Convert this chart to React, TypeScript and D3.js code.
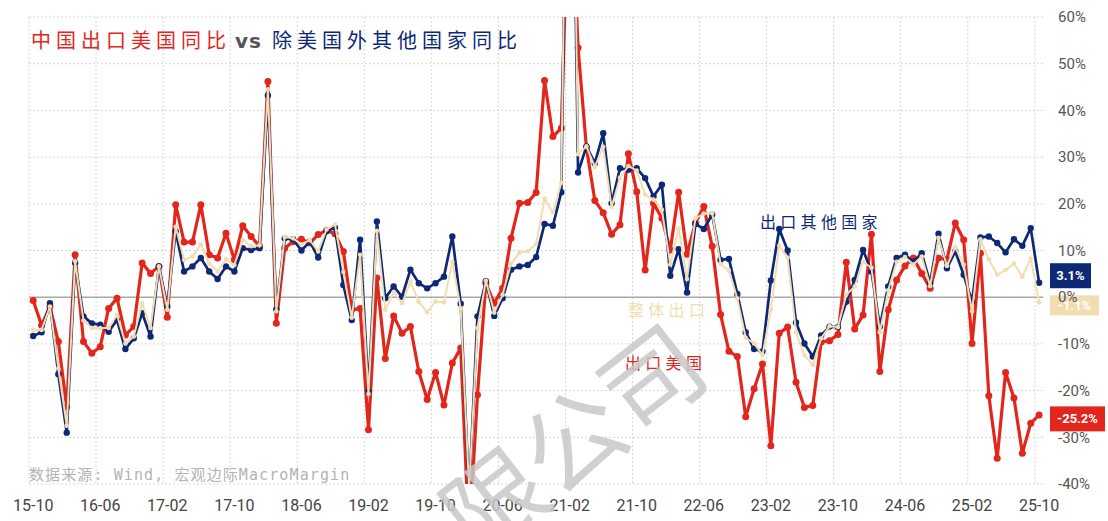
import React from 'react';
import * as d3 from 'd3';

// monthly, 2015-10 .. 2025-10
const months = d3.timeMonth.range(new Date(2015, 9, 1), new Date(2025, 10, 1));
const fmt = d3.timeFormat('%y-%m');
const categories = months.map(d => fmt(d));

const tickLabels = ['15-10', '16-06', '17-02', '17-10', '18-06', '19-02', '19-10', '20-06',
  '21-02', '21-10', '22-06', '23-02', '23-10', '24-06', '25-02', '25-10'];
const yTicks = [60, 50, 40, 30, 20, 10, 0, -10, -20, -30, -40];

// 出口美国
const usSeries = [
  -0.7, -6.0, -2.0, -9.5, -23.5, 9.1, -9.5, -12.0, -10.6, -2.4, -0.2, -8.1, -6.3, 7.3, 5.1, 6.6,
  -4.3, 19.8, 11.8, 11.8, 19.8, 9.1, 8.4, 13.7, 8.0, 15.3, 13.0, 10.9, 46.2, -5.6, 10.5, 11.9,
  12.4, 11.6, 13.4, 14.3, 13.6, 9.8, -2.7, -2.4, -28.4, 4.1, -13.1, -4.0, -7.7, -6.3, -15.9, -21.9,
  -16.1, -23.1, -14.1, -10.9, -52.0, -20.9, 3.0, -1.3, 1.9, 12.6, 20.1, 20.3, 22.4, 46.4, 34.4, 36.2,
  95.0, 53.4, 32.0, 20.7, 18.1, 13.5, 15.5, 30.7, 22.6, 5.8, 20.1, 16.9, 10.1, 22.5, 9.2, 15.9,
  19.4, 10.9, -3.7, -11.6, -12.7, -25.6, -19.6, -14.3, -31.8, -7.7, -6.4, -18.2, -23.6, -23.2, -9.6, -9.3,
  -8.0, 7.5, -6.8, -3.8, 13.5, -15.9, -2.7, 3.7, 6.7, 8.4, 5.1, 1.9, 8.4, 8.1, 15.9, 12.3,
  -9.9, 9.4, -21.1, -34.5, -16.1, -21.6, -33.4, -27.0, -25.2,
];

// 出口其他国家
const otherSeries = [
  -8.3, -7.5, -1.3, -16.5, -29.0, 7.4, -4.1, -5.6, -5.9, -7.4, -4.9, -11.1, -8.8, -3.4, -8.4, 6.6,
  -2.0, 14.1, 5.5, 6.6, 8.4, 5.5, 3.9, 6.6, 5.5, 10.5, 10.1, 10.5, 43.2, -2.6, 12.6, 12.4,
  10.0, 11.9, 8.5, 14.1, 14.9, 2.6, -4.9, 12.3, -20.2, 16.2, -0.2, 2.3, 0.1, 5.9, 3.0, 1.9,
  3.0, 4.4, 13.0, -1.4, -42.0, -4.1, 3.4, -4.0, -0.2, 5.9, 6.6, 6.9, 8.6, 15.7, 15.3, 22.5,
  150.0, 26.7, 32.3, 28.7, 35.1, 20.1, 27.6, 27.3, 27.6, 25.5, 21.6, 24.1, 4.6, 10.3, 1.0, 15.7,
  14.6, 17.7, 8.0, 8.2, 0.7, -7.5, -11.1, -11.6, 3.6, 14.6, 10.0, -5.4, -9.9, -12.7, -8.2, -6.3,
  -6.4, -1.0, 3.7, 10.1, 5.5, -6.3, 2.3, 8.4, 9.1, 7.6, 9.4, 3.0, 13.6, 6.2, 9.8, 4.8,
  -0.9, 12.8, 13.0, 11.6, 9.6, 12.4, 11.0, 14.8, 3.1,
];

// 整体出口
const totalSeries = [
  -7.0, -7.0, -2.0, -15.2, -27.5, 7.7, -5.0, -6.6, -6.6, -6.6, -3.8, -9.9, -8.4, -1.3, -6.6, 6.6,
  -2.7, 15.1, 8.0, 8.7, 11.3, 7.2, 5.5, 8.1, 6.9, 12.3, 10.9, 11.1, 44.5, -3.0, 12.9, 12.6,
  11.3, 12.2, 9.8, 14.5, 15.6, 5.4, -4.4, 9.1, -20.7, 14.2, -2.7, 1.1, -1.3, 3.3, -1.0, -3.2,
  -0.9, -1.1, 7.6, -2.4, -41.0, -6.6, 3.5, -3.3, 0.5, 7.2, 9.5, 9.9, 11.4, 21.1, 18.1, 24.5,
  155.0, 30.6, 32.3, 27.9, 32.2, 19.3, 25.6, 28.1, 27.1, 22.0, 20.9, 18.7, 7.0, 14.7, 3.9, 16.9,
  17.9, 18.0, 7.1, 5.7, -0.3, -8.7, -9.9, -12.4, -2.7, 11.0, 8.5, -7.5, -12.4, -14.5, -8.8, -6.2,
  -6.4, 0.5, 2.3, 7.6, 6.3, -7.5, 1.5, 7.6, 8.6, 7.0, 8.7, 2.4, 12.7, 6.7, 10.7, 7.0,
  -3.0, 12.4, 8.1, 4.8, 5.8, 7.2, 4.4, 8.3, -1.1,
];

const RED = '#e3261c';
const NAVY = '#0c2877';
const BEIGE = '#f3ddb0';

const W = 1108, H = 521;
const left = 29, right = 1043.3, top = 17, bottom = 484;

const x = d3.scaleBand<string>().domain(categories).range([left, right]).padding(0);
const y = d3.scaleLinear().domain([-40, 60]).range([bottom, top]);
const cx = (c: string) => (x(c) as number) + x.bandwidth() / 2;

const seriesDefs = [
  { key: 'us', data: usSeries, color: RED, width: 3.2, r: 3.5, label: '-25.2%', boxW: 55, boxH: 25, dy: 4 },
  { key: 'other', data: otherSeries, color: NAVY, width: 2.7, r: 3.2, label: '3.1%', boxW: 41, boxH: 25, dy: -7 },
  { key: 'total', data: totalSeries, color: BEIGE, width: 2, r: 2.3, label: '-1.1%', boxW: 49, boxH: 20, dy: 3 },
];

const line = d3.line<number>()
  .x((_, i) => cx(categories[i]))
  .y(d => y(d));

export default function App() {
  return (
    <svg width={W} height={H} style={{ position: 'absolute', left: 0, top: 0, background: '#fff' }}
      fontFamily="Roboto, 'Noto Sans CJK SC', sans-serif">
      <defs>
        <clipPath id="plot">
          <rect x={left} y={top} width={right - left} height={bottom - top} />
        </clipPath>
      </defs>

      {/* grid */}
      {yTicks.filter(v => v !== 0).map(v => (
        <line key={'h' + v} x1={left} x2={right} y1={y(v)} y2={y(v)}
          stroke="#d6d6d6" strokeDasharray="2,2" />
      ))}
      {tickLabels.map(t => (
        <line key={'v' + t} x1={x(t)} x2={x(t)} y1={top} y2={bottom}
          stroke="#d6d6d6" strokeDasharray="2,2" />
      ))}
      <line x1={left} x2={right} y1={y(0)} y2={y(0)} stroke="#a8a8a8" strokeWidth={1.5} />

      {/* series */}
      <g clipPath="url(#plot)">
        {seriesDefs.map(s => (
          <g key={s.key}>
            <path d={line(s.data) || ''} fill="none" stroke={s.color} strokeWidth={s.width}
              strokeLinejoin="round" />
            {s.data.map((v, i) => (
              <circle key={i} cx={cx(categories[i])} cy={y(v)} r={s.r} fill={s.color} />
            ))}
          </g>
        ))}
      </g>

      {/* x axis labels */}
      {tickLabels.map(t => (
        <text key={'x' + t} x={cx(t)} y={511} textAnchor="middle" fontSize={16} fill="#444">{t}</text>
      ))}

      {/* y axis labels */}
      {yTicks.filter(v => v !== 0).map(v => (
        <text key={'y' + v} x={1058} y={y(v)} dy="0.35em" fontSize={15} fill="#555">{v}%</text>
      ))}

      {/* end value boxes */}
      {seriesDefs.map(s => {
        const last = s.data[s.data.length - 1];
        const yc = y(last) + s.dy;
        return (
          <g key={'b' + s.key}>
            <rect x={1050} y={yc - s.boxH / 2} width={s.boxW} height={s.boxH} fill={s.color} />
            <text x={1050 + s.boxW / 2} y={yc} dy="0.35em" textAnchor="middle" fontSize={13}
              fill="#fff" fontWeight="bold">{s.label}</text>
          </g>
        );
      })}
      <text x={1058} y={y(0)} dy="0.35em" fontSize={15} fill="#555">0%</text>

      {/* title */}
      <text x={31} y={48} fontSize={20} letterSpacing={5} fontFamily="'Noto Sans CJK SC', sans-serif">
        <tspan fill={RED}>中国出口美国同比</tspan>
        <tspan fill="#555" dx={4} fontFamily="'DejaVu Sans', sans-serif" fontWeight="bold" letterSpacing={1}>vs</tspan>
        <tspan fill={NAVY} dx={10}>除美国外其他国家同比</tspan>
      </text>

      {/* series annotations */}
      <text x={760} y={228} fontSize={16} letterSpacing={4.3} fill={NAVY}
        fontFamily="'Noto Sans CJK SC', sans-serif">出口其他国家</text>
      <text x={628} y={316} fontSize={16} letterSpacing={4.3} fill={BEIGE}
        fontFamily="'Noto Sans CJK SC', sans-serif">整体出口</text>
      <text x={625} y={369} fontSize={16} letterSpacing={4.3} fill={RED}
        fontFamily="'Noto Sans CJK SC', sans-serif">出口美国</text>

      {/* source */}
      <text x={29} y={480} fontSize={15} letterSpacing={1.1} fill="#b3b3b3"
        fontFamily="'DejaVu Sans Mono', 'Noto Sans CJK SC', monospace">数据来源: Wind, 宏观边际MacroMargin</text>

      {/* watermark */}
      <text transform="translate(478,562) rotate(-38)" fontSize={100} fill="#c8c8c8" fillOpacity={0.85}
        fontFamily="'Noto Sans CJK SC', sans-serif">限公司</text>
    </svg>
  );
}
